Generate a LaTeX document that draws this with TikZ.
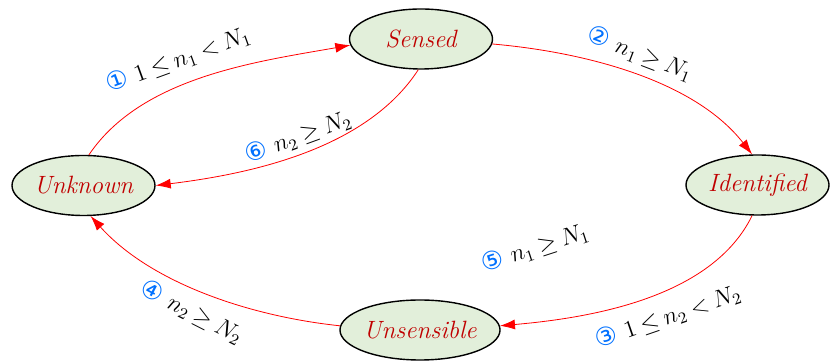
\documentclass[tikz,border=0pt]{standalone}
\usepackage{amsmath,amssymb}
\usepackage{fontspec}
\usepackage{tikz}
\usetikzlibrary{shapes.geometric, arrows.meta, positioning}
\newfontfamily\circfont{DejaVu Sans}
\definecolor{statefill}{RGB}{226,239,218}
\definecolor{statetext}{RGB}{192,0,0}
\definecolor{stepblue}{RGB}{0,112,255}
\newcommand{\stepno}[1]{{\circfont\fontsize{12.5}{14}\selectfont\color{stepblue}#1}}
\newcommand{\tightrel}{\thickmuskip=4mu plus 2mu\relax}

\begin{document}
\begin{tikzpicture}[
    x=0.5pt, y=0.5pt,
    state/.style={ellipse, draw, line width=0.7pt, fill=statefill, minimum width=71.5pt, minimum height=30pt, inner sep=0pt, font=\fontsize{12.5}{15}\selectfont\itshape, text=statetext},
    trans/.style={red, line width=0.4pt, looseness=0.85, -{Latex[length=7.5pt,width=5pt]}},
    cond/.style={font=\fontsize{12}{14}\selectfont\tightrel, inner sep=1pt}
]
    \useasboundingbox (0,0) rectangle (834,362);

    \node[state] (sensed) at (421,323) {Sensed};
    \node[state] (unknown) at (83.5,176.5) {Unknown};
    \node[state] (ident) at (757.5,177) {Identified};
    \node[state] (unsens) at (420,32) {Unsensible};

    \draw[trans] (unknown.80) to[out=56, in=190] (sensed.185);
    \draw[trans] (sensed.-4) to[out=-5, in=128] (ident.100);
    \draw[trans] (ident.260) to[out=244, in=5] (unsens.3);
    \draw[trans] (unsens.177) to[out=174, in=-48] (unknown.283);
    \draw[trans] (sensed.265) to[out=237, in=7] (unknown.east);

    % transition conditions
    \node[cond, rotate=20] (c1) at (178,302) {\stepno{①} $1\leq n_1< N_1$};
    \node[cond, rotate=-21] (c2) at (640,308) {\stepno{②} $n_1\geq N_1$};
    \node[cond, rotate=19] (c3) at (668,45) {\stepno{③} $1\leq n_2< N_2$};
    \node[cond, rotate=-27] (c4) at (192,50) {\stepno{④} $n_2\geq N_2$};
    \node[cond, rotate=18] (c5) at (535,114) {\stepno{⑤} $n_1\geq N_1$};
    \node[cond, rotate=20] (c6) at (298,225) {\stepno{⑥} $n_2\geq N_2$};
\end{tikzpicture}
\end{document}
